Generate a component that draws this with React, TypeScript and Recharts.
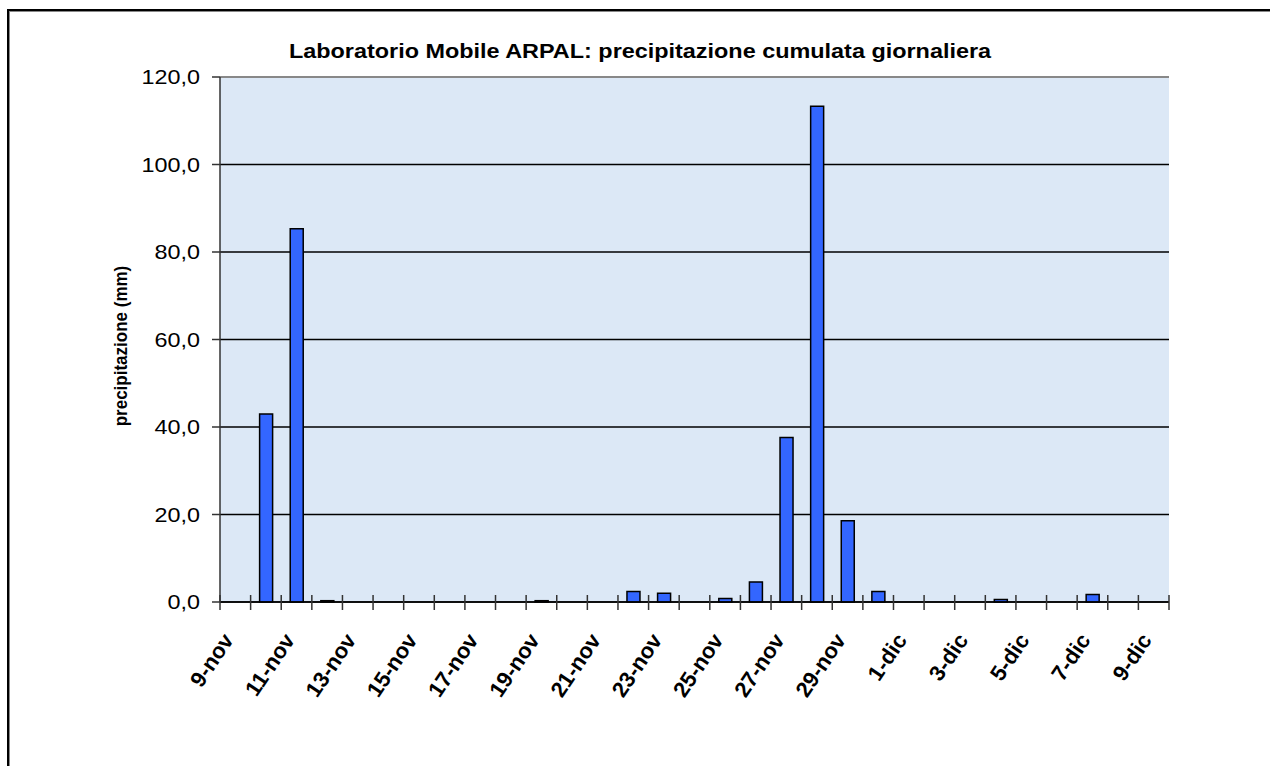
import React from "react"
import {
  BarChart,
  Bar,
  XAxis,
  YAxis,
  CartesianGrid,
  ReferenceLine,
} from "recharts"

const days = [
  "9-nov", "10-nov", "11-nov", "12-nov", "13-nov", "14-nov", "15-nov", "16-nov",
  "17-nov", "18-nov", "19-nov", "20-nov", "21-nov", "22-nov", "23-nov", "24-nov",
  "25-nov", "26-nov", "27-nov", "28-nov", "29-nov", "30-nov", "1-dic", "2-dic",
  "3-dic", "4-dic", "5-dic", "6-dic", "7-dic", "8-dic", "9-dic",
]

const rain = [
  0, 43.0, 85.3, 0.3, 0, 0, 0, 0,
  0, 0, 0.3, 0, 0, 2.4, 2.0, 0,
  0.8, 4.6, 37.6, 113.3, 18.6, 2.4, 0, 0,
  0, 0.6, 0, 0, 1.7, 0, 0,
]

const yTicks = [0, 20, 40, 60, 80, 100, 120]

const data = days.map((d, i) => ({ day: d, mm: rain[i] }))

const FONT = "'Liberation Sans', Arial, sans-serif"
const STRETCH = 1.17

function XTick(props: any) {
  const { x, y, payload, index } = props
  const half = payload?.offset || 949 / days.length / 2
  const i = payload?.index ?? index
  const last = i === days.length - 1
  return (
    <g>
      <line x1={x - half} x2={x - half} y1={y - 7} y2={y + 8} stroke="#333" strokeWidth={1.5} />
      {last && <line x1={x + half} x2={x + half} y1={y - 7} y2={y + 8} stroke="#333" strokeWidth={1.5} />}
      {i % 2 === 0 && (
        <text
          transform={`translate(${x - 1},${y + 38}) rotate(-56)`}
          textAnchor="end"
          fontFamily={FONT}
          fontWeight="bold"
          fontSize={22}
          fill="#000"
        >
          {payload.value}
        </text>
      )}
    </g>
  )
}

function YTick(props: any) {
  const { x, y, payload } = props
  return (
    <text
      transform={`translate(${x},${y + 7}) scale(${STRETCH},1)`}
      textAnchor="end"
      fontFamily={FONT}
      fontSize={20}
      fill="#000"
    >
      {payload.value.toFixed(1).replace(".", ",")}
    </text>
  )
}

export default function App() {
  return (
    <div
      style={{
        position: "absolute",
        left: 0,
        top: 0,
        width: 1270,
        height: 766,
        overflow: "hidden",
        background: "#fff",
        fontFamily: FONT,
      }}
    >
      <div
        style={{
          position: "absolute",
          left: 7,
          top: 9,
          width: 1400,
          height: 900,
          borderTop: "2px solid #000",
          borderLeft: "2px solid #000",
          boxShadow: "inset 1px 1px 0 #888",
        }}
      />
      <div
        style={{
          position: "absolute",
          left: 0,
          top: 40,
          width: 1280,
          textAlign: "center",
          fontSize: 20,
          fontWeight: "bold",
          transform: `scaleX(${STRETCH})`,
          transformOrigin: "640px 0",
        }}
      >
        Laboratorio Mobile ARPAL: precipitazione cumulata giornaliera
      </div>
      <div
        style={{
          position: "absolute",
          left: 121,
          top: 346,
          fontSize: 17,
          fontWeight: "bold",
          whiteSpace: "nowrap",
          transform: "translate(-50%, -50%) rotate(-90deg) scaleY(1.12)",
        }}
      >
        precipitazione (mm)
      </div>
      <div style={{ position: "absolute", left: 0, top: 0 }}>
        <BarChart
          width={1270}
          height={766}
          data={data}
          margin={{ top: 77, right: 101, left: 140, bottom: 64 }}
          barSize={13}
        >
          <CartesianGrid
            vertical={false}
            stroke="#000"
            strokeWidth={1.3}
            fill="#dce8f6"
            fillOpacity={1}
          />
          <XAxis
            dataKey="day"
            interval={0}
            height={100}
            tickSize={0}
            tickMargin={0}
            tickLine={false}
            axisLine={{ stroke: "#000", strokeWidth: 1.5 }}
            tick={<XTick />}
          />
          <YAxis
            width={80}
            domain={[0, 120]}
            ticks={yTicks}
            tickSize={8}
            tickMargin={12}
            tickLine={{ stroke: "#333", strokeWidth: 1.5 }}
            axisLine={{ stroke: "#333", strokeWidth: 1.5 }}
            tick={<YTick />}
          />
          <YAxis
            yAxisId="r"
            orientation="right"
            width={0}
            tick={false}
            tickLine={false}
            axisLine={{ stroke: "#888", strokeWidth: 2 }}
          />
          <ReferenceLine y={120} stroke="#888" strokeWidth={2} />
          <Bar
            dataKey="mm"
            fill="#3366ff"
            stroke="#000"
            strokeWidth={1.5}
            isAnimationActive={false}
          />
        </BarChart>
      </div>
    </div>
  )
}
